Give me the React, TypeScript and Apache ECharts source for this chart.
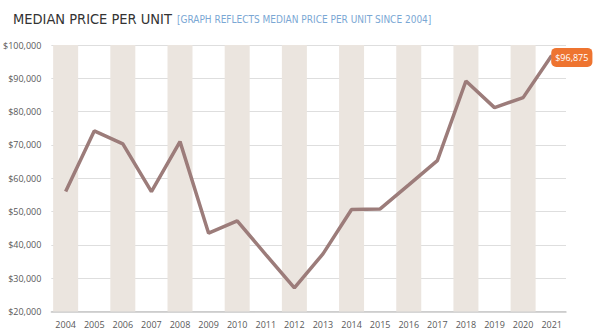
import React, { useEffect, useRef } from "react";
import * as echarts from "echarts";

const years = ["2004","2005","2006","2007","2008","2009","2010","2011","2012","2013","2014","2015","2016","2017","2018","2019","2020","2021"];
const medianPrice = [56000, 74200, 70300, 56000, 71000, 43500, 47200, 37100, 27100, 37300, 50600, 50800, 58000, 65300, 89200, 81200, 84200, 96875];
const yTicks = { min: 20000, max: 100000, interval: 10000 };
const titleText = "MEDIAN PRICE PER UNIT";
const subtitleText = "[GRAPH REFLECTS MEDIAN PRICE PER UNIT SINCE 2004]";

export default function App() {
  const ref = useRef<HTMLDivElement>(null);
  useEffect(() => {
    if (!ref.current) return;
    const chart = echarts.init(ref.current, null, { renderer: "svg" });
    const bands = years.map((_, i) => (i % 2 === 0 ? yTicks.max : "-"));
    const last = medianPrice.length - 1;
    const fam = "Liberation Sans Narrow, DejaVu Sans Condensed, sans-serif";
    chart.setOption({
      animation: false,
      backgroundColor: "#ffffff",
      title: {
        text: "{a|" + titleText + "} {b|" + subtitleText + "}",
        left: 8,
        top: 5,
        textStyle: {
          fontWeight: "normal",
          rich: {
            a: { fontFamily: fam, fontSize: 14.5, fontWeight: "normal", color: "#333333" },
            b: { fontFamily: fam, fontSize: 10, fontWeight: "normal", color: "#7aa7d4" },
          },
        },
      },
      grid: { left: 45.5, right: 34, top: 45, bottom: 20.5, containLabel: false },
      xAxis: {
        type: "category",
        data: years,
        boundaryGap: true,
        axisLine: { show: true, lineStyle: { color: "#c8c8c8", width: 1.5 } },
        axisTick: { show: false },
        axisLabel: { color: "#595959", fontSize: 9, fontFamily: "Open Sans, sans-serif", margin: 8 },
      },
      yAxis: {
        type: "value",
        min: yTicks.min,
        max: yTicks.max,
        interval: yTicks.interval,
        axisLine: { show: false },
        axisTick: { show: false },
        splitLine: { lineStyle: { color: "#dedede", width: 1 } },
        axisLabel: {
          color: "#595959",
          fontSize: 9,
          fontFamily: "Open Sans, sans-serif",
          margin: 10,
          formatter: (v: number) => "$" + v.toLocaleString("en-US"),
        },
      },
      series: [
        {
          type: "bar",
          data: bands,
          barWidth: 25,
          silent: true,
          itemStyle: { color: "#ebe5df" },
          z: 1,
        },
        {
          type: "line",
          data: medianPrice.map((v, i) =>
            i === last
              ? {
                  value: v,
                  symbol: "circle",
                  symbolSize: 1,
                  label: {
                    show: true,
                    position: "right",
                    distance: -1,
                    offset: [0, 2],
                    formatter: (p: any) => "$" + Number(p.value).toLocaleString("en-US"),
                    backgroundColor: "#ee7430",
                    color: "#ffffff",
                    fontSize: 9,
                    fontFamily: "Open Sans, sans-serif",
                    padding: [5, 4, 5, 4],
                    borderRadius: 5,
                  },
                }
              : { value: v, symbol: "none" }
          ),
          showSymbol: true,
          symbol: "circle",
          symbolSize: 1,
          itemStyle: { color: "#9c7c7a" },
          lineStyle: { color: "#9c7c7a", width: 3.5 },
          z: 3,
        },
      ],
    });
    return () => chart.dispose();
  }, []);
  return <div ref={ref} style={{ width: 600, height: 332, position: "absolute", left: 0, top: 0 }} />;
}
